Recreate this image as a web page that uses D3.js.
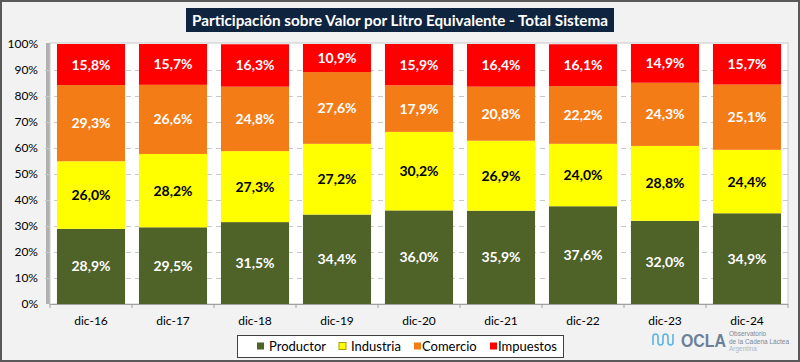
<!DOCTYPE html>
<html>
<head>
<meta charset="utf-8">
<script src="https://cdn.jsdelivr.net/npm/d3@7"></script>
<style>
  html, body { margin: 0; padding: 0; background: #fff; }
  svg { display: block; font-family: Lato, "Open Sans", sans-serif; }
</style>
</head>
<body>
<div id="chart"></div>
<script>
var categories = ["dic-16", "dic-17", "dic-18", "dic-19", "dic-20", "dic-21", "dic-22", "dic-23", "dic-24"];
var seriesNames = ["Productor", "Industria", "Comercio", "Impuestos"];
var productor = [28.9, 29.5, 31.5, 34.4, 36.0, 35.9, 37.6, 32.0, 34.9];
var industria = [26.0, 28.2, 27.3, 27.2, 30.2, 26.9, 24.0, 28.8, 24.4];
var comercio  = [29.3, 26.6, 24.8, 27.6, 17.9, 20.8, 22.2, 24.3, 25.1];
var impuestos = [15.8, 15.7, 16.3, 10.9, 15.9, 16.4, 16.1, 14.9, 15.7];
var yTicks = [0, 10, 20, 30, 40, 50, 60, 70, 80, 90, 100];

var W = 800, H = 362;
var plot = {left: 50, right: 788, top: 44, bottom: 304};

var color = d3.scaleOrdinal()
  .domain(seriesNames)
  .range(["#4f6228", "#ffff00", "#f47c17", "#ff0000"]);
var labelColor = {Productor: "#fff", Industria: "#000", Comercio: "#fff", Impuestos: "#fff"};

var rows = categories.map(function(c, i) {
  return {cat: c, Productor: productor[i], Industria: industria[i], Comercio: comercio[i], Impuestos: impuestos[i]};
});
var stacked = d3.stack().keys(seriesNames)(rows);

var svg = d3.select("#chart").append("svg")
  .attr("width", W).attr("height", H);

// background + outer frame
svg.append("rect").attr("x", 1).attr("y", 1).attr("width", W - 2).attr("height", H - 2)
  .attr("fill", "#f2f2f2").attr("stroke", "#595959").attr("stroke-width", 2);

var x = d3.scaleBand().domain(categories).range([plot.left, plot.right]).paddingInner(0.17).paddingOuter(0.085);
var y = d3.scaleLinear().domain([0, 100]).range([plot.bottom, plot.top]);

// plot area with shadow
svg.append("rect").attr("x", plot.left - 4).attr("y", plot.top - 1)
  .attr("width", 4).attr("height", plot.bottom - plot.top + 1).attr("fill", "#b0b0b0");
svg.append("rect").attr("x", plot.left).attr("y", plot.top - 1)
  .attr("width", plot.right - plot.left).attr("height", plot.bottom - plot.top + 1)
  .attr("fill", "#fff").attr("stroke", "#c8c8c8");

// gridlines
svg.append("g").selectAll("line")
  .data(yTicks.filter(function(d) { return d > 0 && d < 100; }))
  .enter().append("line")
    .attr("x1", plot.left - 5).attr("x2", plot.right)
    .attr("y1", function(d) { return y(d) + 0.5; })
    .attr("y2", function(d) { return y(d) + 0.5; })
    .attr("stroke", "#c8c8c8").attr("stroke-dasharray", "5,4");

// y labels
svg.append("g").selectAll("text")
  .data(yTicks)
  .enter().append("text")
    .attr("x", 38).attr("y", function(d) { return y(d) + 4; })
    .attr("text-anchor", "end").attr("font-size", 12).attr("fill", "#000")
    .text(function(d) { return d + "%"; });

// bars
var layer = svg.append("g").selectAll("g")
  .data(stacked)
  .enter().append("g")
    .attr("fill", function(d) { return color(d.key); });

layer.selectAll("rect")
  .data(function(d) { return d; })
  .enter().append("rect")
    .attr("x", function(d) { return x(d.data.cat); })
    .attr("y", function(d) { return y(Math.min(d[1], 100)); })
    .attr("width", x.bandwidth())
    .attr("height", function(d) { return y(d[0]) - y(Math.min(d[1], 100)); });

// value labels
layer.each(function(s) {
  d3.select(this).selectAll("text")
    .data(s)
    .enter().append("text")
      .attr("x", function(d) { return x(d.data.cat) + x.bandwidth() / 2; })
      .attr("y", function(d) { return (y(d[0]) + y(Math.min(d[1], 100))) / 2 + 5; })
      .attr("text-anchor", "middle")
      .attr("font-size", 14).attr("font-weight", "bold")
      .attr("fill", labelColor[s.key])
      .text(function(d) { return d.data[s.key].toFixed(1).replace(".", ",") + "%"; });
});

// x axis
svg.append("line").attr("x1", plot.left).attr("x2", plot.right)
  .attr("y1", plot.bottom + 0.5).attr("y2", plot.bottom + 0.5).attr("stroke", "#a0a0a0");
svg.append("g").selectAll("line")
  .data(d3.range(categories.length + 1))
  .enter().append("line")
    .attr("x1", function(i) { return plot.left + i * (plot.right - plot.left) / categories.length; })
    .attr("x2", function(i) { return plot.left + i * (plot.right - plot.left) / categories.length; })
    .attr("y1", plot.bottom).attr("y2", plot.bottom + 4).attr("stroke", "#a0a0a0");
svg.append("g").selectAll("text")
  .data(categories)
  .enter().append("text")
    .attr("x", function(d) { return x(d) + x.bandwidth() / 2; })
    .attr("y", 325).attr("text-anchor", "middle").attr("font-size", 12).attr("fill", "#000")
    .text(function(d) { return d; });

// title
svg.append("rect").attr("x", 186).attr("y", 8).attr("width", 428).attr("height", 24).attr("fill", "#0f243e");
svg.append("text").attr("x", 400).attr("y", 25.5).attr("text-anchor", "middle")
  .attr("font-size", 15).attr("font-weight", "bold").attr("fill", "#fff")
  .attr("textLength", 416).attr("lengthAdjust", "spacingAndGlyphs")
  .text("Participación sobre Valor por Litro Equivalente - Total Sistema");

// legend
svg.append("rect").attr("x", 237.5).attr("y", 335.5).attr("width", 326).attr("height", 22)
  .attr("fill", "#fff").attr("stroke", "#404040");
var legendX = [257, 339, 414, 490];
var legend = svg.append("g").selectAll("g")
  .data(seriesNames)
  .enter().append("g")
    .attr("transform", function(d, i) { return "translate(" + legendX[i] + ",346)"; });
legend.append("rect").attr("x", 0).attr("y", -3.5).attr("width", 7).attr("height", 7)
  .attr("fill", function(d) { return color(d); })
  .attr("stroke", function(d) { return d === "Industria" ? "#a0a000" : "none"; });
legend.append("text").attr("x", function(d, i) { return i < 2 ? 12 : 8; }).attr("y", 4.5)
  .attr("font-size", 13).attr("fill", "#000").text(function(d) { return d; });

// OCLA logo
var logo = svg.append("g").attr("transform", "translate(652,333)");
logo.append("path")
  .attr("d", "M1,12 L1,4 Q1,1 3.5,1 Q6,1 6,4 L6,9 Q6,12 8.5,12 Q11,12 11,9 L11,4 Q11,1 13.5,1 Q16,1 16,4 L16,9 Q16,12 18.5,12 Q21,12 21,9 L21,1")
  .attr("fill", "none").attr("stroke", "#5ab4e6").attr("stroke-width", 1.6);
logo.append("text").attr("x", 29).attr("y", 14).attr("font-size", 18).attr("font-weight", "bold")
  .attr("font-family", "'Liberation Sans', Arial, sans-serif").attr("fill", "#6b7f99")
  .attr("textLength", 45).attr("lengthAdjust", "spacingAndGlyphs").text("OCLA");
var small = ["Observatorio", "de la Cadena Láctea", "Argentina"];
logo.selectAll("text.s").data(small).enter().append("text").attr("class", "s")
  .attr("x", 77).attr("y", function(d, i) { return 3 + i * 7.5; })
  .attr("font-size", 6.5).attr("fill", function(d, i) { return i === 2 ? "#b0b6bf" : "#7d8896"; })
  .attr("font-family", "'Liberation Sans', Arial, sans-serif")
  .text(function(d) { return d; });
</script>
</body>
</html>
